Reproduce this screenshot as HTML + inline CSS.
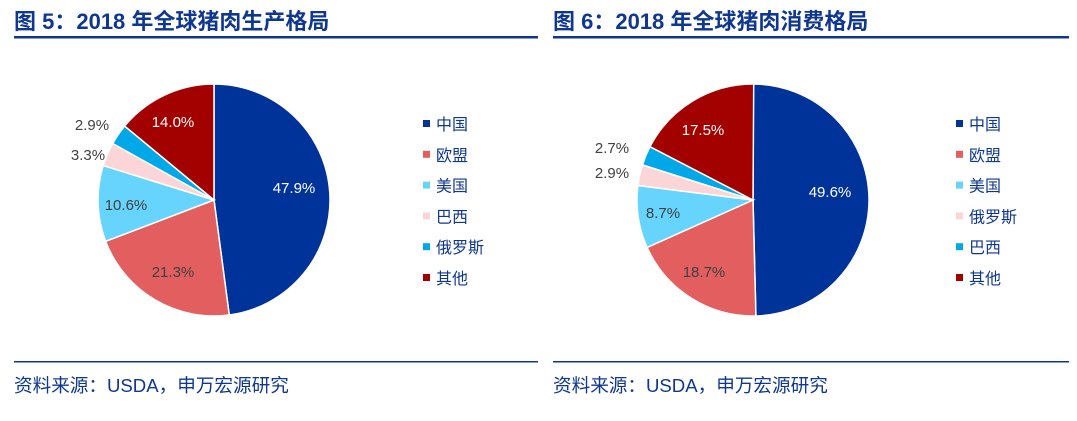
<!DOCTYPE html>
<html><head><meta charset="utf-8"><style>
body{margin:0;width:1077px;height:416px;background:#fff;overflow:hidden;font-family:"Liberation Sans","Noto Sans CJK SC",sans-serif;}
</style></head><body>
<svg id="s" width="1077" height="416" xmlns="http://www.w3.org/2000/svg" font-family="Liberation Sans, Noto Sans CJK SC, sans-serif">
<text x="14" y="29" font-size="22" font-weight="bold" fill="#0f3790">图 5：2018 年全球猪肉生产格局</text>
<text x="553" y="29" font-size="22" font-weight="bold" fill="#0f3790">图 6：2018 年全球猪肉消费格局</text>
<rect x="14" y="36" width="524" height="2.5" fill="#0f3790"/>
<rect x="553" y="36" width="516" height="2.5" fill="#0f3790"/>
<rect x="14" y="361" width="524" height="1.5" fill="#0f3790"/>
<rect x="553" y="361" width="516" height="1.5" fill="#0f3790"/>
<text x="14" y="392" font-size="18.6" fill="#0f3790">资料来源：USDA，申万宏源研究</text>
<text x="553" y="392" font-size="18.6" fill="#0f3790">资料来源：USDA，申万宏源研究</text>
<g id="g"></g>
</svg>
<script>
var C=["#003399","#e35f5f","#66d4fc","#fbd5d7","#00a8e8","#a30000"];
function pie(cx,cy,r,v){var a=0,h="";for(var i=0;i<v.length;i++){var b=a+v[i]/100*2*Math.PI;
var x1=cx+r*Math.sin(a),y1=cy-r*Math.cos(a),x2=cx+r*Math.sin(b),y2=cy-r*Math.cos(b);
h+='<path d="M'+cx+','+cy+' L'+x1+','+y1+' A'+r+','+r+' 0 '+(b-a>Math.PI?1:0)+' 1 '+x2+','+y2+' Z" fill="'+C[i]+'" stroke="#fff" stroke-width="1.5"/>';a=b;}return h;}
function lab(list){var h="";list.forEach(function(l){h+='<text x="'+l[0]+'" y="'+l[1]+'" font-size="15" text-anchor="middle" fill="'+(l[3]?"#fff":"#404040")+'">'+l[2]+'</text>';});return h;}
function leg(x,names){var h="";names.forEach(function(n,i){var y=124+i*30.8;h+='<rect x="'+(x-4)+'" y="'+(y-4)+'" width="7" height="7" fill="'+C[i]+'"/><text x="'+(x+9)+'" y="'+(y+6)+'" font-size="16" fill="#0f3790">'+n+'</text>';});return h;}
var h=pie(214,200,116,[47.9,21.3,10.6,3.3,2.9,14.0])+pie(753,200,116,[49.6,18.7,8.7,2.9,2.7,17.5]);
h+=lab([[294,193,"47.9%",1],[173,277,"21.3%",0],[126,210,"10.6%",0],[88,160,"3.3%",0],[92,130,"2.9%",0],[173,127,"14.0%",1],
[830,197,"49.6%",1],[704,277,"18.7%",0],[663,218,"8.7%",0],[612,178,"2.9%",0],[612,153,"2.7%",0],[703,135,"17.5%",1]]);
h+=leg(427,["中国","欧盟","美国","巴西","俄罗斯","其他"])+leg(960,["中国","欧盟","美国","俄罗斯","巴西","其他"]);
document.getElementById("g").innerHTML=h;
</script>
</body></html>
